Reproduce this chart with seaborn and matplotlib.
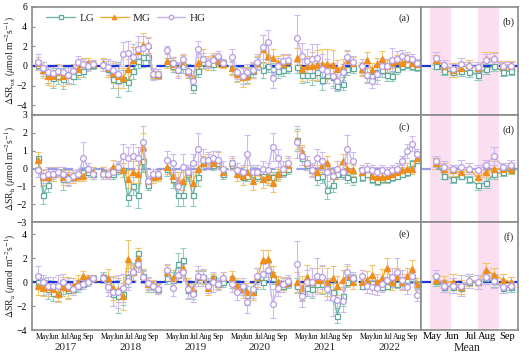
import numpy as np
import pandas as pd
import matplotlib
matplotlib.use("Agg")
import matplotlib.pyplot as plt
import seaborn as sns
from matplotlib.lines import Line2D

# ---------------- data ----------------
years = [2017, 2018, 2019, 2020, 2021, 2022]
sample_doy = [122, 136, 150, 163, 177, 190, 204, 218, 231, 245, 258, 272]
month_names = ["May", "Jun", "Jul", "Aug", "Sep"]
month_mid_doy = [136, 166, 195, 224, 258]
groups = ["LG", "MG", "HG"]

# half-month slots for the multi-year mean (May early .. Sep late)
mean_slots = [0, 1, 2, 3, 4, 5, 6, 7, 8, 9]
mean_month_pos = [-0.4, 1.95, 4.2, 6.15, 8.6]
highlight_spans = [(-0.75, 1.85), (5.05, 7.6)]

# ---- Row 1: dSR_tot  (one row of 12 per year) ----
tot_LG = [[0.1, -0.3, -0.8, -1.2, -1.0, -1.3, -0.8, -1.0, -0.6, -0.5, 0.0, 0.1],
          [0.1, -0.3, -1.3, -1.4, -1.3, -1.6, -0.5, 0.5, 0.9, 0.9, -0.8, -0.9],
          [0.3, 0.0, -0.2, 0.0, -0.5, -2.1, -0.5, 0.4, 0.3, 0.2, 0.6, 0.3],
          [-0.2, -0.8, -1.0, -0.9, -0.5, 0.3, -0.4, 0.0, -0.3, -0.5, -0.4, -0.2],
          [-0.1, -0.9, -0.9, -0.9, -0.6, -1.4, -0.9, -1.1, -2.0, -1.8, -0.3, -0.2],
          [-0.3, -0.9, -1.0, -0.6, -0.4, -0.9, -1.0, -0.3, 0.0, 0.2, 0.0, -0.1]]
tot_MG = [[0.3, -0.4, -1.0, -1.0, -0.6, -1.0, -0.9, -0.4, -0.3, 0.2, 0.3, 0.2],
          [0.3, -0.2, -0.7, -1.0, -1.2, -0.3, 0.6, 1.5, 2.1, 2.1, -0.7, -0.9],
          [0.5, 0.2, -0.3, 0.5, -0.6, -1.2, 0.3, 0.7, 0.3, 0.8, 0.5, 0.2],
          [-0.2, -0.8, -1.1, -1.0, -0.4, 0.3, 1.7, 1.0, 0.8, 0.3, 0.2, 0.5],
          [0.8, -0.3, 0.0, 0.0, 0.1, 0.2, 0.2, 0.1, -0.3, -0.1, 0.6, 0.3],
          [-0.3, 0.6, -0.4, 0.2, 0.7, 0.0, 0.3, 0.5, 0.3, 0.7, 0.3, 0.2]]
tot_HG = [[0.4, -0.2, -0.6, -0.7, -0.5, -0.6, -0.9, -0.5, 0.4, 0.2, 0.0, 0.2],
          [0.1, -0.1, -0.4, -0.8, 1.2, 1.3, 0.9, 1.7, 1.8, 2.0, -0.8, -0.8],
          [1.6, 0.3, -0.4, 0.7, -0.5, -1.5, 1.7, 0.7, 0.3, 0.6, 1.0, 0.3],
          [0.9, -0.6, -1.0, -0.6, -0.4, 0.4, 1.9, 2.4, -1.2, 0.0, 0.5, 0.6],
          [2.8, 1.0, 0.5, 0.7, 0.8, -0.3, -0.5, -1.0, -1.5, -0.6, 0.9, 0.4],
          [0.0, -0.9, -1.5, -0.8, 0.0, 0.0, 0.6, 0.7, 1.0, 0.8, 0.7, 0.3]]
tot_LG_err = [[0.5, 0.7, 0.9, 1.0, 0.8, 1.1, 0.9, 0.8, 0.7, 0.6, 0.5, 0.4],
              [0.6, 0.8, 1.0, 1.8, 0.9, 1.0, 0.8, 0.7, 1.0, 0.9, 0.5, 0.4],
              [0.5, 0.6, 0.5, 0.7, 0.7, 0.7, 0.6, 0.6, 0.5, 0.6, 0.5, 0.4],
              [0.6, 0.7, 0.8, 0.8, 0.7, 0.6, 0.8, 0.6, 0.6, 0.7, 0.6, 0.5],
              [0.6, 0.8, 0.7, 1.0, 0.9, 1.1, 0.8, 0.9, 0.6, 0.7, 0.6, 0.5],
              [0.6, 0.7, 0.6, 0.8, 0.7, 0.6, 0.5, 0.5, 0.4, 0.4, 0.4, 0.4]]
tot_MG_err = [[0.6, 0.8, 0.9, 1.0, 0.8, 1.0, 0.9, 0.6, 0.8, 0.6, 0.5, 0.4],
              [0.5, 0.9, 1.0, 1.2, 1.0, 1.0, 1.3, 0.9, 1.3, 0.8, 0.5, 0.4],
              [0.7, 0.6, 0.7, 0.6, 0.6, 0.7, 0.9, 1.0, 0.7, 0.5, 0.6, 0.4],
              [0.7, 0.8, 1.0, 0.8, 0.8, 0.7, 1.4, 1.2, 0.9, 0.7, 0.9, 0.6],
              [1.0, 1.2, 1.0, 1.4, 1.5, 1.5, 1.5, 1.5, 0.9, 0.8, 0.9, 0.6],
              [0.7, 0.8, 0.7, 0.6, 0.8, 0.6, 0.5, 0.6, 0.6, 0.5, 0.4, 0.4]]
tot_HG_err = [[0.8, 0.6, 0.7, 0.8, 0.6, 0.7, 0.8, 0.6, 0.6, 0.5, 0.5, 0.4],
              [0.6, 0.8, 0.9, 1.0, 1.2, 1.2, 1.3, 1.3, 1.2, 0.8, 0.6, 0.5],
              [0.4, 0.6, 0.8, 0.5, 0.6, 0.6, 0.8, 0.6, 0.5, 0.5, 0.5, 0.4],
              [0.8, 0.7, 0.8, 0.8, 0.7, 0.8, 1.2, 1.3, 1.0, 0.8, 0.7, 0.6],
              [2.4, 1.3, 1.2, 1.5, 1.4, 1.5, 1.2, 1.3, 1.0, 0.8, 0.7, 0.6],
              [0.7, 0.8, 0.7, 1.0, 0.8, 0.7, 1.2, 0.8, 0.6, 0.6, 0.5, 0.4]]

# ---- Row 2: dSR_h ----
h_LG = [[0.6, -1.5, -0.9, -0.3, -0.2, -0.6, -0.5, -0.5, -0.4, -0.2, -0.2, -0.3],
        [-0.2, -0.3, -0.3, 0.0, -0.1, -1.6, -1.0, -1.5, 0.4, -0.9, -0.5, -0.4],
        [0.0, -0.6, -1.5, -1.5, -0.3, -1.5, -0.5, 0.3, 0.5, 0.2, 0.3, -0.3],
        [0.2, -0.2, -0.5, -0.4, -0.3, -0.4, -0.4, -0.5, -0.5, -0.3, -0.2, 0.0],
        [1.6, 0.6, 0.2, -0.1, -0.5, -0.4, -1.2, -0.9, -0.3, -0.3, -0.5, -0.6],
        [-0.5, -0.3, -0.6, -0.7, -0.6, -0.6, -0.5, -0.4, -0.3, -0.2, 0.3, 0.5]]
h_MG = [[0.5, -0.5, -0.5, -0.3, -0.2, -0.5, -0.4, -0.5, -0.4, -0.4, 0.0, -0.2],
        [-0.2, -0.3, 0.1, 0.1, -0.1, -0.6, -0.2, -0.3, 1.2, -0.7, -0.5, -0.4],
        [0.1, -0.4, -0.7, -0.7, -0.2, -0.8, 0.0, 0.3, 0.5, 0.3, 0.5, -0.2],
        [0.3, -0.3, -0.4, -0.2, -0.7, -0.2, -0.6, -0.4, -0.8, -0.3, 0.0, 0.2],
        [1.6, 0.9, 0.3, -0.1, -0.2, 0.2, 0.3, -0.4, 0.0, 0.4, 0.0, -0.1],
        [-0.2, 0.0, -0.4, -0.5, -0.5, -0.4, -0.3, -0.2, -0.1, 0.0, 0.0, 0.6]]
h_HG = [[-0.1, -0.4, -0.3, -0.3, -0.2, -0.3, -0.6, -0.4, -0.3, 0.6, 0.0, -0.3],
        [-0.3, -0.3, -0.2, 0.1, 0.7, 0.6, 0.7, 0.6, 1.5, -0.7, -0.3, -0.3],
        [0.5, 0.3, -1.0, 0.1, -0.2, 0.3, 1.1, 0.5, 0.5, 0.6, 0.5, 0.0],
        [0.3, -0.1, -0.2, 0.8, -0.2, -0.2, 0.0, -0.1, 1.2, 0.6, 0.0, 0.3],
        [1.5, 0.7, 0.3, -0.1, 0.6, 0.4, -0.2, -0.4, 0.0, -0.2, 1.1, 0.4],
        [-0.1, 0.0, -0.1, -0.2, -0.1, -0.2, -0.1, 0.0, 0.4, 1.0, 1.4, 0.8]]
h_LG_err = [[0.3, 0.5, 0.4, 0.4, 0.3, 0.6, 0.4, 0.3, 0.3, 0.3, 0.3, 0.3],
            [0.3, 0.3, 0.3, 0.3, 0.4, 0.5, 0.5, 0.7, 0.6, 0.3, 0.3, 0.3],
            [0.4, 0.5, 0.6, 0.6, 0.4, 0.6, 0.5, 0.3, 0.3, 0.3, 0.3, 0.3],
            [0.3, 0.3, 0.4, 0.3, 0.4, 0.3, 0.3, 0.4, 0.3, 0.3, 0.3, 0.3],
            [0.6, 0.4, 0.3, 0.3, 0.4, 0.4, 0.5, 0.4, 0.3, 0.3, 0.3, 0.3],
            [0.2, 0.2, 0.2, 0.2, 0.2, 0.2, 0.2, 0.2, 0.2, 0.2, 0.2, 0.2]]
h_MG_err = [[0.4, 0.4, 0.5, 0.4, 0.3, 0.4, 0.4, 0.3, 0.3, 0.3, 0.3, 0.3],
            [0.3, 0.3, 0.4, 0.3, 0.4, 0.5, 0.6, 0.5, 0.8, 0.3, 0.3, 0.3],
            [0.4, 0.4, 0.5, 0.5, 0.4, 0.6, 0.4, 0.4, 0.3, 0.3, 0.4, 0.3],
            [0.3, 0.4, 0.5, 0.4, 0.5, 0.4, 0.5, 0.4, 0.5, 0.4, 0.4, 0.4],
            [0.5, 0.4, 0.4, 0.3, 0.4, 0.4, 0.4, 0.4, 0.4, 0.4, 0.3, 0.3],
            [0.3, 0.3, 0.3, 0.3, 0.3, 0.3, 0.3, 0.3, 0.3, 0.3, 0.3, 0.3]]
h_HG_err = [[0.4, 0.4, 0.4, 0.3, 0.3, 0.4, 0.4, 0.3, 0.3, 0.9, 0.3, 0.3],
            [0.3, 0.3, 0.3, 0.3, 0.7, 0.6, 0.7, 0.6, 0.9, 0.3, 0.3, 0.3],
            [0.5, 0.5, 0.5, 0.7, 0.4, 0.5, 0.9, 0.6, 0.4, 0.4, 0.5, 0.4],
            [0.4, 0.4, 0.4, 1.1, 0.4, 0.4, 0.4, 0.4, 0.8, 0.5, 0.4, 0.4],
            [0.9, 0.5, 0.4, 0.4, 0.5, 0.5, 0.5, 0.5, 0.4, 0.4, 0.8, 0.5],
            [0.3, 0.3, 0.3, 0.3, 0.3, 0.3, 0.3, 0.3, 0.3, 0.4, 0.4, 0.3]]

# ---- Row 3: dSR_a ----
a_LG = [[0.0, -0.4, -0.6, -0.9, -1.0, -0.4, -0.7, -0.6, -0.3, -0.2, 0.1, 0.3],
        [0.4, -0.2, -1.0, -1.2, -1.0, 0.4, 0.8, 2.4, 0.5, -0.2, -0.3, -0.6],
        [0.3, 0.2, 1.5, 1.8, -0.7, -0.8, 0.4, 0.4, -0.2, 0.3, -0.2, 0.0],
        [0.0, -0.3, -0.5, -1.1, -0.8, 0.3, 0.0, 1.0, 0.3, -0.3, -0.3, -0.1],
        [-0.3, -0.8, -0.5, -0.6, -0.2, -0.2, -0.3, -0.8, -2.8, -1.2, 0.0, 0.3],
        [-0.3, -0.2, -0.1, -0.3, -0.4, -0.3, 0.0, -0.2, 0.0, 0.2, 0.3, -0.2]]
a_MG = [[-0.3, -0.5, -0.4, -0.6, -1.0, -0.4, -0.5, -0.3, 0.0, 0.5, 0.3, 0.3],
        [0.4, 0.3, -0.5, -0.7, -1.2, 1.9, 0.8, 2.0, 0.5, -0.2, -0.2, -0.5],
        [0.8, 0.3, 0.6, 1.2, -0.3, -0.6, 0.5, 0.4, -0.5, 0.3, -0.2, 0.4],
        [0.4, -0.3, -0.6, -0.8, -0.8, 0.4, 1.8, 1.9, 0.7, 0.0, -0.2, 0.0],
        [0.0, -0.5, 0.4, 0.0, 0.2, 0.2, 0.0, 0.3, -0.3, 0.2, 0.5, 0.0],
        [0.0, 0.2, 0.6, 0.0, 0.3, 1.2, 0.0, 0.4, 0.0, 0.5, 1.1, -0.2]]
a_HG = [[0.5, 0.0, -0.3, -0.3, -0.3, 0.0, -0.3, -0.6, -0.3, -0.2, 0.0, 0.3],
        [0.3, -0.4, -0.8, -0.8, -0.5, 0.1, 0.8, 1.5, 0.4, -0.1, -0.3, -0.6],
        [1.0, -0.5, 0.6, 0.8, -0.6, -1.0, 0.5, 0.4, -0.3, 0.0, -0.2, 0.3],
        [-0.2, -0.8, -0.3, -1.7, -0.6, 0.5, 0.7, 1.0, -1.8, -0.5, -0.2, 0.1],
        [1.5, -1.2, 0.0, 0.0, 0.5, 0.4, -0.6, -1.3, -1.5, -1.6, 0.8, 0.3],
        [0.5, -0.3, -0.4, -0.5, -0.2, 0.2, 0.4, 0.8, 0.2, -0.4, 0.5, -1.1]]
a_LG_err = [[0.6, 0.7, 0.8, 0.7, 0.6, 0.6, 0.6, 0.5, 0.5, 0.4, 0.3, 0.3],
            [0.4, 0.6, 1.0, 1.4, 0.9, 0.8, 0.8, 0.4, 0.5, 0.6, 0.5, 0.4],
            [0.5, 0.6, 0.9, 1.0, 0.6, 0.6, 0.5, 0.5, 0.5, 0.4, 0.4, 0.4],
            [0.5, 0.5, 0.6, 0.8, 0.7, 0.9, 0.6, 0.6, 0.5, 0.5, 0.4, 0.4],
            [0.6, 0.8, 0.7, 0.7, 0.6, 0.8, 0.6, 0.7, 0.6, 0.8, 0.4, 0.4],
            [0.3, 0.3, 0.3, 0.3, 0.3, 0.3, 0.3, 0.3, 0.3, 0.3, 0.3, 0.3]]
a_MG_err = [[0.8, 0.7, 0.8, 0.6, 0.7, 0.8, 0.9, 0.6, 0.6, 0.4, 0.3, 0.3],
            [0.3, 0.8, 1.0, 1.0, 1.1, 1.6, 0.6, 0.8, 0.6, 0.5, 0.4, 0.4],
            [0.6, 0.7, 0.6, 0.8, 0.6, 0.6, 0.5, 0.6, 0.6, 0.4, 0.4, 0.4],
            [0.5, 0.6, 0.7, 0.7, 0.7, 0.8, 0.9, 0.8, 0.6, 0.5, 0.5, 0.4],
            [0.8, 1.0, 1.0, 1.2, 1.0, 1.1, 1.2, 1.0, 0.8, 0.8, 0.8, 0.6],
            [0.6, 0.7, 0.8, 0.7, 0.8, 0.8, 0.7, 0.8, 0.7, 0.7, 0.7, 0.5]]
a_HG_err = [[0.8, 0.6, 0.7, 0.7, 0.9, 0.7, 0.6, 0.5, 0.4, 0.4, 0.3, 0.3],
            [0.4, 0.8, 1.2, 1.4, 1.2, 0.8, 0.7, 0.7, 0.5, 0.5, 0.4, 0.4],
            [0.5, 0.7, 0.6, 0.7, 0.8, 0.7, 0.8, 0.7, 0.6, 0.8, 0.5, 0.5],
            [0.6, 0.7, 0.6, 0.9, 0.7, 0.7, 0.8, 0.8, 1.2, 0.7, 0.6, 0.5],
            [1.9, 0.9, 1.0, 1.2, 1.5, 1.0, 0.9, 1.5, 1.0, 0.9, 0.7, 0.5],
            [0.5, 0.6, 0.6, 0.6, 0.6, 0.7, 0.8, 1.2, 0.8, 0.6, 0.6, 0.5]]

# ---- multi-year mean (half-month) ----
mtot_LG = [0.0, -0.5, -0.6, -0.5, -0.6, -0.9, -0.3, 0.0, -0.6, -0.5]
mtot_MG = [0.6, 0.0, -0.4, -0.2, 0.1, -0.2, 0.7, 0.8, 0.0, 0.1]
mtot_HG = [0.8, 0.1, -0.3, 0.2, 0.0, -0.1, 0.6, 0.7, 0.0, 0.0]
mtot_LG_err = [0.3, 0.4, 0.5, 0.5, 0.5, 0.5, 0.5, 0.5, 0.4, 0.4]
mtot_MG_err = [0.5, 0.6, 0.7, 0.6, 0.5, 0.6, 0.7, 0.6, 0.5, 0.4]
mtot_HG_err = [0.6, 0.5, 0.5, 0.6, 0.4, 0.5, 0.6, 0.6, 0.4, 0.4]
mh_LG = [0.3, -0.4, -0.6, -0.4, -0.6, -0.9, -0.8, -0.3, -0.2, -0.1]
mh_MG = [0.3, 0.0, -0.1, -0.2, 0.0, -0.5, -0.2, 0.0, 0.0, 0.0]
mh_HG = [0.4, 0.1, 0.0, 0.1, 0.0, -0.1, 0.2, 0.7, 0.1, 0.2]
mh_LG_err = [0.3, 0.2, 0.2, 0.2, 0.2, 0.3, 0.3, 0.3, 0.2, 0.2]
mh_MG_err = [0.3, 0.3, 0.3, 0.3, 0.3, 0.3, 0.3, 0.4, 0.3, 0.3]
mh_HG_err = [0.3, 0.3, 0.2, 0.4, 0.3, 0.3, 0.3, 0.5, 0.2, 0.3]
ma_LG = [0.1, -0.4, -0.4, -0.5, 0.0, 0.0, 0.3, 0.1, -0.5, -0.4]
ma_MG = [0.2, 0.0, 0.0, -0.4, 0.2, 0.0, 1.0, 0.6, 0.2, 0.0]
ma_HG = [0.5, -0.3, -0.3, -0.3, 0.1, 0.0, 0.4, 0.1, -0.4, -0.3]
ma_LG_err = [0.4, 0.4, 0.5, 0.5, 0.5, 0.6, 0.5, 0.5, 0.4, 0.4]
ma_MG_err = [0.4, 0.5, 0.7, 0.6, 0.5, 0.6, 0.6, 0.6, 0.5, 0.4]
ma_HG_err = [0.5, 0.5, 0.6, 0.9, 0.6, 0.6, 0.6, 0.6, 0.5, 0.4]

# ---------------- styling ----------------
YEAR_SPAN = 175
DOY0 = 120

line_col = {"LG": "#72b8aa", "MG": "#f3ad3c", "HG": "#c7b4ec"}
err_col = {"LG": "#92cbbf", "MG": "#f4c46a", "HG": "#cdbbf0"}
edge_col = {"LG": "#5ea99a", "MG": "#f08e1c", "HG": "#b69ce2"}
face_col = {"LG": "white", "MG": "#f08e1c", "HG": "white"}
marker = {"LG": "s", "MG": "^", "HG": "o"}
msize = {"LG": 3.6, "MG": 4.0, "HG": 4.2}

sns.set_style("ticks")
plt.rcParams["font.family"] = ["Liberation Serif", "DejaVu Serif"]
plt.rcParams["mathtext.fontset"] = "stix"
SPINE = "#8a8a8a"


def long_frame(LG, MG, HG, LGe, MGe, HGe):
    rows = []
    for g, vals, errs in (("LG", LG, LGe), ("MG", MG, MGe), ("HG", HG, HGe)):
        for yi, yr in enumerate(years):
            for d, v, e in zip(sample_doy, vals[yi], errs[yi]):
                rows.append(dict(group=g, year=yr, x=yi * YEAR_SPAN + (d - DOY0), v=v, e=e))
    return pd.DataFrame(rows)


def mean_frame(LG, MG, HG, LGe, MGe, HGe):
    rows = []
    for g, vals, errs in (("LG", LG, LGe), ("MG", MG, MGe), ("HG", HG, HGe)):
        for s, v, e in zip(mean_slots, vals, errs):
            rows.append(dict(group=g, year=0, x=s, v=v, e=e))
    return pd.DataFrame(rows)


def draw(ax, df, zero_col, cap):
    ax.axhline(0, color=zero_col, lw=1.6, ls=(0, (4.5, 2.5)), zorder=2.5)
    for g in groups:
        sub = df[df.group == g]
        ax.errorbar(sub.x, sub.v, yerr=sub.e, fmt="none", ecolor=err_col[g],
                    elinewidth=0.8, capsize=cap, capthick=0.8, zorder=2)
        sns.lineplot(data=sub, x="x", y="v", units="year", estimator=None,
                     color=line_col[g], marker=marker[g], markersize=msize[g],
                     markerfacecolor=face_col[g], markeredgecolor=edge_col[g],
                     markeredgewidth=0.9, linewidth=1.0, ax=ax, legend=False,
                     zorder=3)
    ax.set_xlabel("")
    ax.set_ylabel("")


def style(ax):
    for s in ax.spines.values():
        s.set_color(SPINE)
        s.set_linewidth(1.2)
    ax.tick_params(axis="both", colors="black", labelsize=7, direction="in",
                   length=2.5, width=0.8, color=SPINE)


W, H = 529, 356
fig = plt.figure(figsize=(W / 100, H / 100), dpi=100)
xl, xm, xr = 32 / W, 421 / W, 518 / W
row_px = [(7, 115), (115, 222), (222, 330)]

data_rows = [
    (long_frame(tot_LG, tot_MG, tot_HG, tot_LG_err, tot_MG_err, tot_HG_err),
     mean_frame(mtot_LG, mtot_MG, mtot_HG, mtot_LG_err, mtot_MG_err, mtot_HG_err),
     (-5, 6), [-4, -2, 0, 2, 4, 6], r"$\Delta$SR$_{\rm tot}$ ($\mu$mol m$^{-2}$s$^{-1}$)",
     "#1e36d8", ("(a)", "(b)")),
    (long_frame(h_LG, h_MG, h_HG, h_LG_err, h_MG_err, h_HG_err),
     mean_frame(mh_LG, mh_MG, mh_HG, mh_LG_err, mh_MG_err, mh_HG_err),
     (-3, 3), [-3, -2, -1, 0, 1, 2, 3], r"$\Delta$SR$_{\rm h}$ ($\mu$mol m$^{-2}$s$^{-1}$)",
     "#9a9ce6", ("(c)", "(d)")),
    (long_frame(a_LG, a_MG, a_HG, a_LG_err, a_MG_err, a_HG_err),
     mean_frame(ma_LG, ma_MG, ma_HG, ma_LG_err, ma_MG_err, ma_HG_err),
     (-4, 5), [-4, -2, 0, 2, 4], r"$\Delta$SR$_{\rm a}$ ($\mu$mol m$^{-2}$s$^{-1}$)",
     "#1e36d8", ("(e)", "(f)")),
]

left_ticks = [yi * YEAR_SPAN + (d - DOY0) for yi in range(len(years)) for d in month_mid_doy]
left_ticklabels = month_names * len(years)

for r, (df, dfm, ylim, yticks, ylab, zc, labs) in enumerate(data_rows):
    top, bot = row_px[r]
    b = 1 - bot / H
    h = (bot - top) / H
    axL = fig.add_axes([xl, b, xm - xl, h])
    axR = fig.add_axes([xm, b, xr - xm, h])

    draw(axL, df, zc, 2.0)
    for lo, hi in highlight_spans:
        axR.axvspan(lo, hi, color="#fbdff0", lw=0, zorder=0)
    draw(axR, dfm, zc, 2.6)

    for ax in (axL, axR):
        ax.set_ylim(*ylim)
        style(ax)
    axL.set_yticks(yticks)
    axR.set_yticks([])
    axL.set_xlim(-14, 1037)
    axR.set_xlim(-1.8, 9.85)
    axL.set_ylabel(ylab, fontsize=7, labelpad=1)
    axL.yaxis.set_label_coords(-0.036, 0.5)

    if r == 2:
        axL.set_xticks(left_ticks)
        axL.set_xticklabels(left_ticklabels, fontsize=5.5)
        axL.tick_params(axis="x", length=0, pad=2)
        for yi, yr in enumerate(years):
            axL.text(yi * YEAR_SPAN + (197 - DOY0), -0.165, str(yr), fontsize=8,
                     ha="center", va="center", transform=axL.get_xaxis_transform())
        axR.set_xticks(mean_month_pos)
        axR.set_xticklabels(month_names, fontsize=7.6)
        axR.tick_params(axis="x", length=0, pad=1.5)
        axR.text(0.47, -0.165, "Mean", fontsize=8.5, ha="center", va="center",
                 transform=axR.transAxes)
    else:
        axL.set_xticks([])
        axR.set_xticks([])

    axL.text(0.957, 0.90 if r == 0 else 0.89, labs[0], fontsize=7.5, ha="center",
             va="center", transform=axL.transAxes)
    axR.text(0.90, 0.86, labs[1], fontsize=7.5, ha="center", va="center",
             transform=axR.transAxes)

    if r == 0:
        handles = [Line2D([], [], color=line_col[g], marker=marker[g], markersize=3.2,
                          markerfacecolor=face_col[g], markeredgecolor=edge_col[g],
                          markeredgewidth=0.9, lw=1.0) for g in groups]
        axL.legend(handles, groups, loc="center left", bbox_to_anchor=(0.025, 0.895),
                   ncol=3, frameon=False, fontsize=8, handlelength=2.6,
                   columnspacing=0.5, handletextpad=0.4, borderaxespad=0)

fig.savefig("out.png", dpi=100)
